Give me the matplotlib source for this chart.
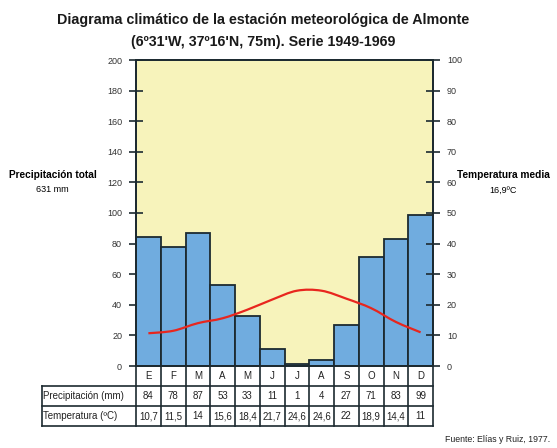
import numpy as np
import matplotlib
matplotlib.use("Agg")
import matplotlib.pyplot as plt
from matplotlib.path import Path
from matplotlib.patches import PathPatch
from matplotlib import font_manager

# datos del diagrama
meses = ["E", "F", "M", "A", "M", "J", "J", "A", "S", "O", "N", "D"]
precipitacion = [84, 78, 87, 53, 33, 11, 1, 4, 27, 71, 83, 99]
temperatura = [10.7, 11.5, 14, 15.6, 18.4, 21.7, 24.6, 24.6, 22, 18.9, 14.4, 11]
precip_ticks = [0, 20, 40, 60, 80, 100, 120, 140, 160, 180, 200]
temp_ticks = [0, 10, 20, 30, 40, 50, 60, 70, 80, 90, 100]

# fuente estrecha si existe
nombres = [f.name for f in font_manager.fontManager.ttflist]
fam = "Liberation Sans Narrow" if "Liberation Sans Narrow" in nombres else "Liberation Sans"
plt.rcParams['font.family'] = [fam, 'DejaVu Sans']

fig = plt.figure(figsize=(5.57, 4.48), dpi=100)
W, H = 557.0, 448.0
ax = fig.add_axes([136 / W, 1 - 366 / H, (433 - 136) / W, (366 - 60) / H])
ax.set_facecolor("#f7f3bb")

x = np.arange(len(meses))
ax.bar(x + 0.5, precipitacion, width=1.0, color="#70acdf", edgecolor="#1c2a30", linewidth=1.3, zorder=2)
ax.set_xlim(0, 12)
ax.set_ylim(0, 200)

# temperatura en eje derecho (escala 2:1)
ax2 = ax.twinx()
ax2.set_ylim(0, 100)
# curva suave por los puntos (bezier tipo catmull-rom)
pts = np.column_stack([x + 0.5, temperatura])
verts = [tuple(pts[0])]
codes = [Path.MOVETO]
for i in range(len(pts) - 1):
    p0 = pts[max(i - 1, 0)]
    p1 = pts[i]
    p2 = pts[i + 1]
    p3 = pts[min(i + 2, len(pts) - 1)]
    c1 = p1 + (p2 - p0) / 6.0
    c2 = p2 - (p3 - p1) / 6.0
    verts += [tuple(c1), tuple(c2), tuple(p2)]
    codes += [Path.CURVE4] * 3
ax2.add_patch(PathPatch(Path(verts, codes), facecolor="none", edgecolor="#e8261e", lw=1.6, zorder=5))

for a in (ax, ax2):
    for s in a.spines.values():
        s.set_color("#1c2a30")
        s.set_linewidth(1.3)
ax.set_xticks([])
ax.set_yticks(precip_ticks)
ax2.set_yticks(temp_ticks)
ax.tick_params(axis="y", direction="inout", length=10, width=1.2, labelsize=6.5, colors="#1c2a30", pad=5)
ax2.tick_params(axis="y", direction="inout", length=10, width=1.2, labelsize=6.5, colors="#1c2a30", pad=5)
for lab in ax.get_yticklabels() + ax2.get_yticklabels():
    lab.set_color("#333333")

# titulo
fig.text(0.473, 1 - 20 / H, "Diagrama climático de la estación meteorológica de Almonte",
         ha="center", va="center", fontsize=10.3, fontweight="bold", color="#1a1a1a")
fig.text(0.473, 1 - 42 / H, "(6º31'W, 37º16'N, 75m). Serie 1949-1969",
         ha="center", va="center", fontsize=10.3, fontweight="bold", color="#1a1a1a")

# etiquetas laterales
fig.text(53 / W, 1 - 175 / H, "Precipitación total", ha="center", va="center", fontsize=7.3, fontweight="bold")
fig.text(52 / W, 1 - 190 / H, "631 mm", ha="center", va="center", fontsize=6.5)
fig.text(503 / W, 1 - 175 / H, "Temperatura media", ha="center", va="center", fontsize=7.3, fontweight="bold")
fig.text(503 / W, 1 - 190 / H, "16,9ºC", ha="center", va="center", fontsize=6.5)

# tabla debajo del grafico (coordenadas: x en datos, y en fraccion del eje)
trans = ax.get_xaxis_transform()
rh = 20 / 306.0
xl = -(136 - 42) / 24.75
lc = "#1c2a30"
ys = [0, -rh, -2 * rh, -3 * rh]
# lineas horizontales
ax.plot([xl, 12], [ys[1], ys[1]], transform=trans, color=lc, lw=1.2, clip_on=False)
ax.plot([xl, 12], [ys[2], ys[2]], transform=trans, color=lc, lw=1.2, clip_on=False)
ax.plot([xl, 12], [ys[3], ys[3]], transform=trans, color=lc, lw=1.2, clip_on=False)
# lineas verticales
for i in range(13):
    ax.plot([i, i], [0, ys[3]], transform=trans, color=lc, lw=1.2, clip_on=False)
ax.plot([xl, xl], [ys[1], ys[3]], transform=trans, color=lc, lw=1.2, clip_on=False)

def fmt(v):
    return ("%g" % v).replace(".", ",")

for i in range(12):
    ax.text(i + 0.5, -rh * 0.5, meses[i], transform=trans, ha="center", va="center", fontsize=7, color="#222222")
    ax.text(i + 0.5, -rh * 1.5, str(precipitacion[i]), transform=trans, ha="center", va="center", fontsize=7, color="#222222")
    ax.text(i + 0.5, -rh * 2.5, fmt(temperatura[i]), transform=trans, ha="center", va="center", fontsize=7, color="#222222")
ax.text(xl + 0.05, -rh * 1.5, "Precipitación (mm)", transform=trans, ha="left", va="center", fontsize=7, color="#222222")
ax.text(xl + 0.05, -rh * 2.5, "Temperatura (ºC)", transform=trans, ha="left", va="center", fontsize=7, color="#222222")

fig.text(550 / W, 1 - 439 / H, "Fuente: Elías y Ruiz, 1977.", ha="right", va="center", fontsize=6.3, color="#222222")

fig.savefig("out.png", dpi=100, facecolor="white")
